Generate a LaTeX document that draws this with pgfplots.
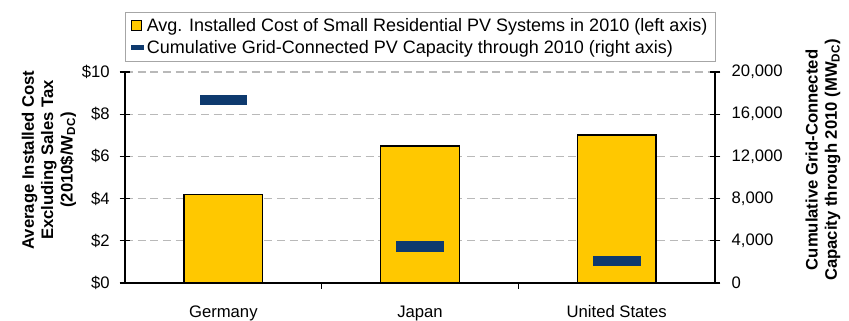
\documentclass[border=0pt]{standalone}
\usepackage{fontspec}
\setmainfont{Liberation Sans}
\usepackage{pgfplots}
\pgfplotsset{compat=1.18}
\definecolor{barY}{RGB}{255,200,0}
\definecolor{navyD}{RGB}{14,58,110}
\pgfdeclareplotmark{capdash}{\pgfpathrectangle{\pgfpoint{-17.5pt}{-3.5pt}}{\pgfpoint{35pt}{7pt}}\pgfusepathqfillstroke}
\newcommand{\chfont}{\fontsize{12.5}{14.5}\selectfont}
\newcommand{\lgfont}{\fontsize{13.5}{15}\selectfont}
\begin{document}
\begin{tikzpicture}
\useasboundingbox (-93.75pt,-28.5pt) rectangle (543pt,212.25pt);
\clip (-93.75pt,-28.5pt) rectangle (543pt,212.25pt);
\begin{axis}[
  at={(0,0)}, anchor=south west, scale only axis,
  width=442.5pt, height=158.25pt,
  xmin=-0.5, xmax=2.5, ymin=0, ymax=10,
  axis x line*=bottom, axis y line*=left,
  axis line style={black, line width=1pt},
  xtick={0,1,2}, xticklabels={Germany,Japan,United States},
  x tick style={draw=none},
  ytick={0,2,4,6,8,10}, yticklabels={\$0,\$2,\$4,\$6,\$8,\$10},
  tick align=center, major tick length=8pt,
  y tick style={black, line width=0.8pt},
  ymajorgrids, grid style={gray!55, dash pattern=on 6pt off 3.5pt, line width=0.9pt},
  tick label style={font=\chfont},
  xticklabel style={yshift=-9.5pt},
  yticklabel style={xshift=-4pt},
  ylabel={Average Installed Cost\\Excluding Sales Tax\\(2010\$/W\textsubscript{DC})},
  ylabel style={at={(axis description cs:-0.129,0.583)}, anchor=center, align=center, font=\chfont\bfseries},
]
\addplot[ybar, bar width=0.4, fill=barY, draw=black, line width=1.2pt] coordinates {(0,4.20) (1,6.50) (2,7.01)};
\end{axis}
\begin{axis}[
  at={(0,0)}, anchor=south west, scale only axis,
  width=442.5pt, height=158.25pt,
  xmin=-0.5, xmax=2.5, ymin=0, ymax=1,
  hide axis, clip=false,
]
% category-boundary tick marks below the x axis
\addplot[ycomb, black, line width=1pt, mark=none] coordinates {(0.5,-0.03) (1.5,-0.03)};
\end{axis}
\begin{axis}[
  at={(0,0)}, anchor=south west, scale only axis,
  width=442.5pt, height=158.25pt,
  xmin=-0.5, xmax=2.5, ymin=0, ymax=20000,
  axis x line=none, axis y line*=right,
  axis line style={black, line width=1pt},
  ytick={0,4000,8000,12000,16000,20000},
  yticklabels={0,{4,000},{8,000},{12,000},{16,000},{20,000}},
  scaled y ticks=false,
  tick align=center, major tick length=8pt,
  y tick style={black, line width=0.8pt},
  tick label style={font=\chfont},
  yticklabel style={xshift=5pt},
  ylabel={Cumulative Grid-Connected\\Capacity through 2010 (MW\textsubscript{DC})},
  ylabel style={at={(axis description cs:1.183,0.583)}, anchor=center, align=center, font=\chfont\bfseries},
  legend style={at={(axis description cs:0.501,1.285)}, anchor=north, draw=gray!70, line width=0.6pt, font=\lgfont, row sep=1pt, inner xsep=4pt, inner ysep=2.5pt},
  legend cell align=left,
]
\addlegendimage{legend image code/.code={\draw[fill=barY, draw=black, line width=0.8pt] (0pt,-3.75pt) rectangle (7.5pt,3.75pt);}}
\addlegendentry{Avg. Installed Cost of Small Residential PV Systems in 2010 (left axis)}
\addplot[only marks, mark=capdash, mark options={fill=navyD, draw=navyD, line width=0.3pt},
  legend image code/.code={\fill[navyD] (0pt,-1.4pt) rectangle (9pt,1.4pt);}]
  coordinates {(0,17400) (1,3500) (2,2100)};
\addlegendentry{Cumulative Grid-Connected PV Capacity through 2010 (right axis)}
\end{axis}
\end{tikzpicture}
\end{document}
